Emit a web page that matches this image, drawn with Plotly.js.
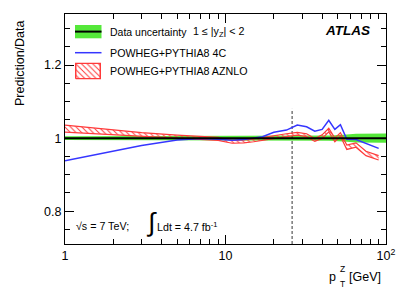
<!DOCTYPE html>
<html>
<head>
<meta charset="utf-8">
<script src="https://cdn.plot.ly/plotly-3.0.1.min.js"></script>
<style>html,body{margin:0;padding:0;background:#fff;}#chart{width:407px;height:292px;}</style>
</head>
<body>
<div id="chart"></div>
<script>
// ---- data ----
const ptCentres = [1, 3, 5, 7, 9, 11, 13, 15, 17, 20, 24, 28, 32, 36, 40, 44, 48, 52, 57, 65, 75, 90];
const ptLastEdge = 100;
const ratio4C    = [0.938, 0.980, 0.995, 0.999, 0.997, 0.994, 0.996, 1.000, 1.004, 1.016, 1.022, 1.036, 1.031, 1.019, 1.024, 1.049, 1.024, 1.037, 0.997, 0.996, 0.985, 0.972];
const ratioAZNLO = [1.026, 1.010, 1.004, 1.001, 0.998, 0.990, 0.991, 0.994, 0.998, 1.004, 1.008, 1.012, 1.008, 0.995, 1.004, 1.022, 0.995, 1.010, 0.975, 0.981, 0.958, 0.946];
const errAZNLO   = [0.0095, 0.005, 0.004, 0.004, 0.004, 0.004, 0.004, 0.004, 0.004, 0.004, 0.004, 0.004, 0.004, 0.004, 0.005, 0.005, 0.005, 0.005, 0.006, 0.006, 0.006, 0.006];
const errData    = [0.005, 0.005, 0.005, 0.005, 0.005, 0.005, 0.005, 0.005, 0.005, 0.006, 0.006, 0.007, 0.007, 0.007, 0.007, 0.007, 0.008, 0.008, 0.010, 0.012, 0.013, 0.013];
const fitRangeEdge = 26;
const xTickVals = [1, 10, 100];
const xTickText = ['1', '10', '10<sup>2</sup>'];
const yTickVals = [0.8, 1, 1.2];
const yTickText = ['0.8', '1', '1.2'];
const legendLabels = ['Data uncertainty', 'POWHEG+PYTHIA8 4C', 'POWHEG+PYTHIA8 AZNLO'];

// ---- derived ----
const bandX = ptCentres.concat([ptLastEdge]);
const bandErr = errData.concat([errData[errData.length - 1]]);
const dataLo = bandErr.map(e => 1 - e);
const dataHi = bandErr.map(e => 1 + e);
const azLo = ratioAZNLO.map((v, i) => v - errAZNLO[i]);
const azHi = ratioAZNLO.map((v, i) => v + errAZNLO[i]);

const GREEN = '#55e83a', BLUE = '#3636ff', RED = '#ff3a3a';
const FONT = 'Liberation Sans, Arial, sans-serif';

const minorX = [2,3,4,5,6,7,8,9,20,30,40,50,60,70,80,90];
const minorY = [0.75,0.85,0.9,0.95,1.05,1.1,1.15,1.25,1.3];

const traces = [
  {x: bandX, y: dataLo, mode: 'lines', line: {width: 0}, hoverinfo: 'skip', showlegend: false},
  {x: bandX, y: dataHi, mode: 'lines', line: {width: 0}, fill: 'tonexty', fillcolor: GREEN, hoverinfo: 'skip', showlegend: false},
  {x: [fitRangeEdge, fitRangeEdge], y: [0.71, 1.08], mode: 'lines', line: {color: '#000', width: 0.8, dash: '3px,2px'}, showlegend: false},
  {x: ptCentres, y: azLo, mode: 'lines', line: {color: RED, width: 1.2}, showlegend: false},
  {x: ptCentres, y: azHi, mode: 'lines', line: {color: RED, width: 1.2}, fill: 'tonexty', fillcolor: 'rgba(0,0,0,0)',
   fillpattern: {shape: '\\', fgcolor: RED, bgcolor: 'rgba(0,0,0,0)', size: 4, solidity: 0.25}, showlegend: false},
  {x: ptCentres, y: ratio4C, mode: 'lines', line: {color: BLUE, width: 1.5}, showlegend: false},
  // legend swatch for hatched band (aux axes)
  {x: [0, 1, 1, 0, 0], y: [0, 0, 1, 1, 0], xaxis: 'x3', yaxis: 'y3', mode: 'lines', line: {color: RED, width: 1.5},
   fill: 'toself', fillcolor: 'rgba(0,0,0,0)', fillpattern: {shape: '\\', fgcolor: RED, bgcolor: 'rgba(0,0,0,0)', size: 4, solidity: 0.25}, showlegend: false}
];

const W = 407, H = 292, L = 65, R = 21, T = 14, B = 48;
const pw = W - L - R, ph = H - T - B;
const px = v => (v - L) / pw;
const py = v => (H - B - v) / ph;

const layout = {
  width: W, height: H,
  margin: {l: L, r: R, t: T, b: B, pad: 0},
  paper_bgcolor: '#fff', plot_bgcolor: '#fff',
  font: {family: FONT, color: '#000', size: 12.5},
  showlegend: false,
  xaxis: {
    type: 'log', range: [0, 2], tickvals: xTickVals, ticktext: xTickText,
    ticks: 'inside', ticklen: 9, tickwidth: 1, tickcolor: '#000',
    showline: true, linecolor: '#000', linewidth: 1, mirror: 'ticks',
    showgrid: false, zeroline: false, tickfont: {size: 12.5},
    minor: {tickvals: minorX, ticks: 'inside', ticklen: 5, tickwidth: 1, tickcolor: '#000', showgrid: false}
  },
  yaxis: {
    range: [0.71, 1.34], tickvals: yTickVals, ticktext: yTickText,
    ticks: 'inside', ticklen: 9, tickwidth: 1, tickcolor: '#000',
    showline: true, linecolor: '#000', linewidth: 1, mirror: 'ticks',
    showgrid: false, zeroline: false, tickfont: {size: 12.5},
    minor: {tickvals: minorY, ticks: 'inside', ticklen: 5, tickwidth: 1, tickcolor: '#000', showgrid: false}
  },
  xaxis3: {domain: [px(74.5), px(101.5)], range: [-0.05, 1.05], visible: false, anchor: 'y3', fixedrange: true},
  yaxis3: {domain: [py(79.5), py(62.5)], range: [-0.05, 1.05], visible: false, anchor: 'x3', fixedrange: true},
  shapes: [
    {type: 'line', xref: 'paper', yref: 'y', x0: 0, x1: 1, y0: 1, y1: 1, line: {color: '#000', width: 2}},
    {type: 'rect', xref: 'paper', yref: 'paper', x0: px(75), x1: px(101.5), y0: py(38.3), y1: py(25), fillcolor: GREEN, line: {width: 0}},
    {type: 'line', xref: 'paper', yref: 'paper', x0: px(75), x1: px(101.5), y0: py(31.6), y1: py(31.6), line: {color: '#000', width: 2}},
    {type: 'line', xref: 'paper', yref: 'paper', x0: px(75), x1: px(101.5), y0: py(52.7), y1: py(52.7), line: {color: BLUE, width: 1.5}}
  ],
  annotations: [
    {xref: 'paper', yref: 'paper', x: px(108), y: py(32), xanchor: 'left', yanchor: 'middle', showarrow: false, text: legendLabels[0], font: {size: 10.5}},
    {xref: 'paper', yref: 'paper', x: px(191), y: py(32), xanchor: 'left', yanchor: 'middle', showarrow: false, text: '1 ≤ |y<sub>Z</sub>| &lt; 2', font: {size: 10.7}},
    {xref: 'paper', yref: 'paper', x: px(108), y: py(52.7), xanchor: 'left', yanchor: 'middle', showarrow: false, text: legendLabels[1], font: {size: 10.7}},
    {xref: 'paper', yref: 'paper', x: px(108), y: py(71), xanchor: 'left', yanchor: 'middle', showarrow: false, text: legendLabels[2], font: {size: 10.7}},
    {xref: 'paper', yref: 'paper', x: px(372), y: py(30), xanchor: 'right', yanchor: 'middle', showarrow: false, text: '<b><i>ATLAS</i></b>', font: {size: 13.5}},
    {xref: 'paper', yref: 'paper', x: px(74), y: py(226), xanchor: 'left', yanchor: 'middle', showarrow: false, text: '√s = 7 TeV;', font: {size: 10.7}},
    {xref: 'paper', yref: 'paper', x: px(144), y: py(222), xanchor: 'left', yanchor: 'middle', showarrow: false, text: '∫', font: {size: 26}},
    {xref: 'paper', yref: 'paper', x: px(155), y: py(226), xanchor: 'left', yanchor: 'middle', showarrow: false, text: 'Ldt = 4.7 fb<sup>-1</sup>', font: {size: 10.7}},
    {xref: 'paper', yref: 'paper', x: px(20), y: py(18), xanchor: 'center', yanchor: 'top', textangle: -90, showarrow: false, text: 'Prediction/Data', font: {size: 12.5}},
    {xref: 'paper', yref: 'paper', x: px(383), y: py(277), xanchor: 'right', yanchor: 'middle', showarrow: false, text: '[GeV]', font: {size: 12.5}},
    {xref: 'paper', yref: 'paper', x: px(338), y: py(277), xanchor: 'right', yanchor: 'middle', showarrow: false, text: 'p', font: {size: 12.5}},
    {xref: 'paper', yref: 'paper', x: px(337.5), y: py(269), xanchor: 'left', yanchor: 'middle', showarrow: false, text: 'Z', font: {size: 8.5}},
    {xref: 'paper', yref: 'paper', x: px(337.5), y: py(284), xanchor: 'left', yanchor: 'middle', showarrow: false, text: 'T', font: {size: 8.5}}
  ]
};

Plotly.newPlot('chart', traces, layout, {staticPlot: true, displayModeBar: false});
</script>
</body>
</html>
